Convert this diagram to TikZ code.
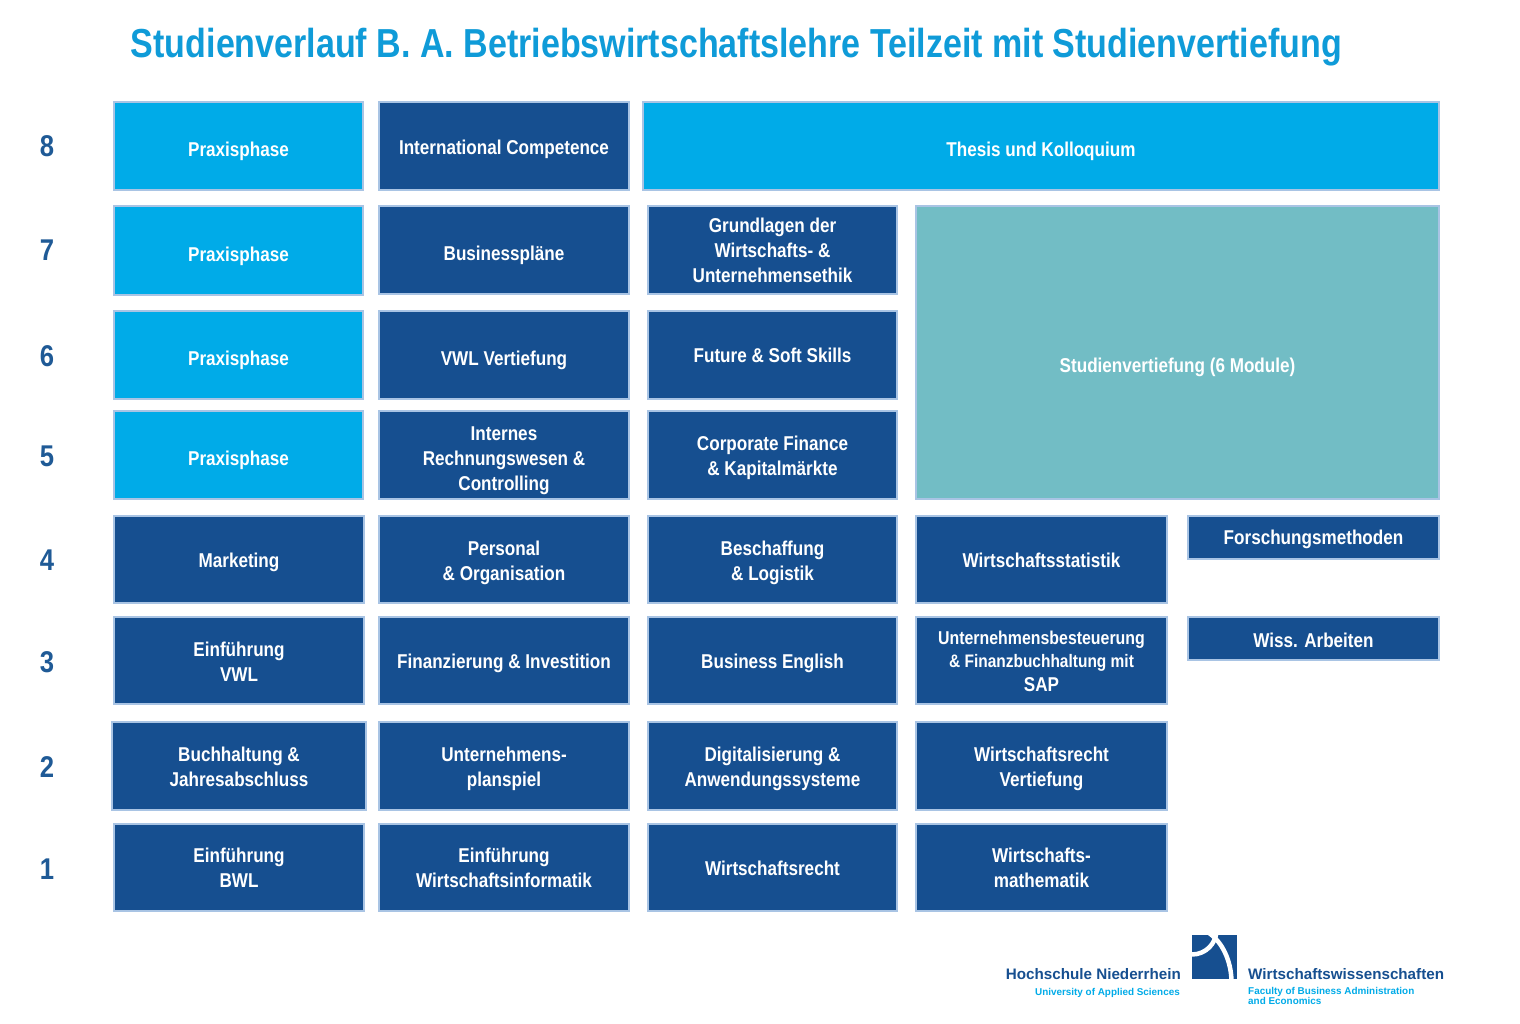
\documentclass[tikz,border=0pt]{standalone}
\usepackage{fontspec}
\setmainfont{Liberation Sans}[FakeStretch=0.855]
\newfontfamily\titlefont{Liberation Sans}[FakeStretch=0.84]
\newfontfamily\logofont{Liberation Sans}
\definecolor{navy}{HTML}{164F90}
\definecolor{sky}{HTML}{00ABE8}
\definecolor{teal1}{HTML}{72BDC5}
\definecolor{edge}{HTML}{A9C4E4}
\definecolor{titleblue}{HTML}{0F9BD8}
\definecolor{numblue}{HTML}{1F5A96}
\tikzset{
  basebox/.style={draw=edge,line width=2pt,inner sep=0pt,anchor=north west},
  navybox/.style={basebox,fill=navy},
  skybox/.style={basebox,fill=sky},
  tealbox/.style={basebox,fill=teal1},
  boxtext/.style={text=white,font=\fontsize{20}{25}\selectfont\bfseries,align=center,inner sep=0pt},
  numtext/.style={text=numblue,font=\fontsize{30}{30}\selectfont\bfseries,inner sep=0pt},
  logoname/.style={text=navy,font=\logofont\fontsize{15.2}{16}\selectfont\bfseries,inner sep=0pt},
  logosub/.style={text=sky,font=\logofont\fontsize{9.9}{10.5}\selectfont\bfseries,inner sep=0pt},
  logoarc/.style={white,line width=4.5pt},
}
% name, x0, y0, x1, y1, style, text centre y, text
\newcommand{\bx}[8]{%
  \node[#6,minimum width=#4pt-#2pt,minimum height=#5pt-#3pt] (#1) at ({#2-1},{#3-1}) {};
  \node[boxtext] (#1t) at ({(#2+#4)/2},{#7+2}) {#8};
}
\begin{document}
\begin{tikzpicture}[x=1pt,y=-1pt]
\useasboundingbox (0,0) rectangle (1520,1024);
\fill[white] (0,0) rectangle (1520,1024);
\node[text=titleblue,font=\titlefont\fontsize{40.5}{41}\selectfont\bfseries,inner sep=0pt] (title) at (736.5,47) {Studienverlauf B. A. Betriebswirtschaftslehre Teilzeit mit Studienvertiefung};
% semester numbers
\foreach \n/\y in {8/146,7/250,6/356,5/456,4/560,3/662,2/767,1/869}
  \node[numtext] (n\n) at (47,\y) {\n};
% row 8
\bx{a8}{114}{102}{363}{190}{skybox}{149}{Praxisphase}
\bx{b8}{379}{102}{629}{190}{navybox}{147}{International Competence}
\bx{c8}{643}{102}{1439}{190}{skybox}{149}{Thesis und Kolloquium}
% row 7
\bx{a7}{114}{206}{363}{295}{skybox}{254}{Praxisphase}
\bx{b7}{379}{206}{629}{294}{navybox}{253}{Businesspläne}
\bx{c7}{648}{206}{897}{294}{navybox}{248}{Grundlagen der\\Wirtschafts- \&\\Unternehmensethik}
\bx{sv}{916}{206}{1439}{499}{tealbox}{365}{Studienvertiefung (6 Module)}
% row 6
\bx{a6}{114}{311}{363}{399}{skybox}{358}{Praxisphase}
\bx{b6}{379}{311}{629}{399}{navybox}{358}{VWL Vertiefung}
\bx{c6}{648}{311}{897}{399}{navybox}{353}{Future \& Soft Skills}
% row 5
\bx{a5}{114}{411}{363}{499}{skybox}{458}{Praxisphase}
\bx{b5}{379}{411}{629}{499}{navybox}{459}{Internes\\Rechnungswesen \&\\Controlling}
\bx{c5}{648}{411}{897}{499}{navybox}{456}{Corporate Finance\\\& Kapitalmärkte}
% row 4
\bx{a4}{114}{516}{364}{603}{navybox}{560}{Marketing}
\bx{b4}{379}{516}{629}{603}{navybox}{561}{Personal\\\& Organisation}
\bx{c4}{648}{516}{897}{603}{navybox}{561}{Beschaffung\\\& Logistik}
\bx{d4}{916}{516}{1167}{603}{navybox}{558}{Wirtschaftsstatistik}
\bx{e4}{1188}{516}{1439}{559}{navybox}{537}{Forschungsmethoden}
% row 3
\bx{a3}{114}{617}{364}{704}{navybox}{660}{Einführung\\VWL}
\bx{b3}{379}{617}{629}{704}{navybox}{661}{Finanzierung \& Investition}
\bx{c3}{648}{617}{897}{704}{navybox}{661}{Business English}
\bx{d3}{916}{617}{1167}{704}{navybox}{659}{\fontsize{18.6}{23}\selectfont Unternehmensbesteuerung\\[-1.5pt]{\fontsize{18.1}{23}\selectfont \& Finanzbuchhaltung mit}\\[-1.5pt]SAP}
\bx{e3}{1188}{617}{1439}{660}{navybox}{638}{Wiss. Arbeiten}
% row 2
\bx{a2}{112}{722}{366}{810}{navybox}{765}{Buchhaltung \&\\Jahresabschluss}
\bx{b2}{379}{722}{629}{810}{navybox}{767}{Unternehmens-\\planspiel}
\bx{c2}{648}{722}{897}{810}{navybox}{767}{Digitalisierung \&\\Anwendungssysteme}
\bx{d2}{916}{722}{1167}{810}{navybox}{767}{Wirtschaftsrecht\\Vertiefung}
% row 1
\bx{a1}{114}{824}{364}{911}{navybox}{866}{Einführung\\BWL}
\bx{b1}{379}{824}{629}{911}{navybox}{866}{Einführung\\Wirtschaftsinformatik}
\bx{c1}{648}{824}{897}{911}{navybox}{866}{Wirtschaftsrecht}
\bx{d1}{916}{824}{1167}{911}{navybox}{866}{Wirtschafts-\\mathematik}
% logo
\begin{scope}
\clip (1192,935) rectangle (1237,979);
\fill[navy] (1192,935) rectangle (1237,979);
\draw[logoarc] (1192,954.5) arc[start angle=90,end angle=0,radius=24.5];
\draw[logoarc] (1209,933) .. controls (1222,942) and (1231,960) .. (1231.5,981);
\end{scope}
\node[logoname,anchor=east] (hn) at (1181,974) {Hochschule Niederrhein};
\node[logosub,anchor=east] (uas) at (1180,992.5) {University of Applied Sciences};
\node[logoname,anchor=west] (ww) at (1248,974) {Wirtschaftswissenschaften};
\node[logosub,anchor=north west,align=left] (fba) at (1248,987) {Faculty of Business Administration\\and Economics};
\end{tikzpicture}
\end{document}
